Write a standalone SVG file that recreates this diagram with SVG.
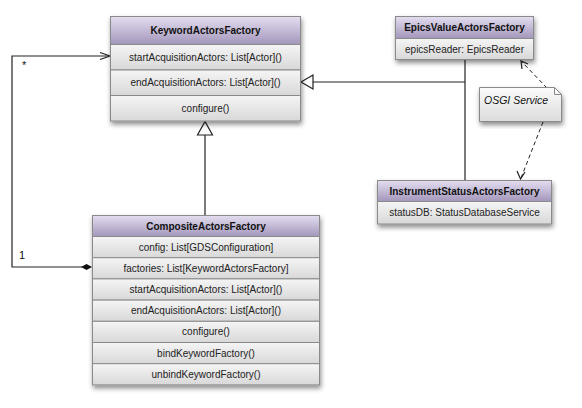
<svg xmlns="http://www.w3.org/2000/svg" width="582" height="408" viewBox="0 0 582 408">
  <defs>
    <linearGradient id="hdr" x1="0" y1="0" x2="0" y2="1">
      <stop offset="0" stop-color="#e4def0"/>
      <stop offset="1" stop-color="#a396bb"/>
    </linearGradient>
    <linearGradient id="row" x1="0" y1="0" x2="0" y2="1">
      <stop offset="0" stop-color="#f5f5f5"/>
      <stop offset="1" stop-color="#d8d8d8"/>
    </linearGradient>
    <linearGradient id="note" x1="0" y1="0" x2="0" y2="1">
      <stop offset="0" stop-color="#fbfbfb"/>
      <stop offset="1" stop-color="#dcdcdc"/>
    </linearGradient>
    <filter id="shadow" x="-10%" y="-10%" width="125%" height="130%">
      <feDropShadow dx="1" dy="3" stdDeviation="2.5" flood-color="#000" flood-opacity="0.45"/>
    </filter>
  </defs>
  <style>
    .hdr { fill: url(#hdr); stroke: #8a8a8a; stroke-width: 1; }
    .row { fill: url(#row); stroke: #8a8a8a; stroke-width: 1; }
    .title { font-family: "Liberation Sans", Arial, sans-serif; font-size: 10px; font-weight: bold; fill: #111; text-anchor: middle; }
    .item { font-family: "Liberation Sans", Arial, sans-serif; font-size: 10px; fill: #222; text-anchor: middle; }
    .mult { font-family: "Liberation Sans", Arial, sans-serif; font-size: 11px; fill: #111; }
    .line { fill: none; stroke: #222; stroke-width: 1.2; }
    .dash { fill: none; stroke: #222; stroke-width: 1; stroke-dasharray: 4 3; }
    .tri { fill: #fff; stroke: #222; stroke-width: 1.2; }
  </style>

  <g id="connectors">
    <!-- generalization: CompositeActorsFactory -> KeywordActorsFactory -->
    <line class="line" x1="205" y1="215" x2="205" y2="135"/>
    <polygon class="tri" points="205,121.5 197.5,135 212.5,135"/>
    <!-- generalization: Epics / InstrumentStatus -> KeywordActorsFactory -->
    <line class="line" x1="465" y1="59" x2="465" y2="180"/>
    <line class="line" x1="465" y1="82" x2="313" y2="82"/>
    <polygon class="tri" points="301,82 313,75 313,89"/>
    <!-- composition: factories -> KeywordActorsFactory -->
    <polyline class="line" points="82,267 12,267 12,56 109,56"/>
    <polygon points="92,267 86.5,264 81,267 86.5,270" fill="#111"/>
    <polyline class="line" points="100,52.5 110,56 100,59.5"/>
    <text class="mult" x="22" y="69">*</text>
    <text class="mult" x="19" y="259">1</text>
    <!-- note links -->
    <line class="dash" x1="547" y1="88" x2="522" y2="62"/>
    <polyline class="line" points="522,69 521,61 528,64" stroke-width="1"/>
    <line class="dash" x1="543" y1="122" x2="521" y2="178"/>
    <polyline class="line" points="517,171 520.5,179 525,172" stroke-width="1"/>
  </g>

  <g id="KeywordActorsFactory" filter="url(#shadow)">
    <rect class="hdr" x="110.5" y="16.5" width="190" height="28"/>
    <rect class="row" x="110.5" y="44.5" width="190" height="25.5"/>
    <rect class="row" x="110.5" y="70" width="190" height="25.5"/>
    <rect class="row" x="110.5" y="95.5" width="190" height="25.5"/>
  </g>
  <g id="KeywordActorsFactory-text">
    <text class="title" x="205.5" y="34">KeywordActorsFactory</text>
    <text class="item" x="205.5" y="60.5">startAcquisitionActors: List[Actor]()</text>
    <text class="item" x="205.5" y="86">endAcquisitionActors: List[Actor]()</text>
    <text class="item" x="205.5" y="111.5">configure()</text>
  </g>

  <g id="EpicsValueActorsFactory" filter="url(#shadow)">
    <rect class="hdr" x="395.5" y="16.5" width="138" height="22"/>
    <rect class="row" x="395.5" y="38.5" width="138" height="21"/>
  </g>
  <g id="EpicsValueActorsFactory-text">
    <text class="title" x="464.5" y="31">EpicsValueActorsFactory</text>
    <text class="item" x="464.5" y="52.5">epicsReader: EpicsReader</text>
  </g>

  <g id="OSGIServiceNote" filter="url(#shadow)">
    <path d="M479.5,87.5 H554.5 L561.5,94.5 V121.5 H479.5 Z" fill="url(#note)" stroke="#8a8a8a"/>
    <path d="M554.5,87.5 V94.5 H561.5" fill="none" stroke="#8a8a8a"/>
  </g>
  <g id="OSGIServiceNote-text">
    <text x="484" y="104" font-family="Liberation Sans, Arial, sans-serif" font-size="10.5" font-style="italic" fill="#111">OSGI Service</text>
  </g>

  <g id="InstrumentStatusActorsFactory" filter="url(#shadow)">
    <rect class="hdr" x="377.5" y="180.5" width="174" height="21"/>
    <rect class="row" x="377.5" y="201.5" width="174" height="22.5"/>
  </g>
  <g id="InstrumentStatusActorsFactory-text">
    <text class="title" x="464.5" y="194.5">InstrumentStatusActorsFactory</text>
    <text class="item" x="464.5" y="216">statusDB: StatusDatabaseService</text>
  </g>

  <g id="CompositeActorsFactory" filter="url(#shadow)">
    <rect class="hdr" x="92.5" y="215.5" width="227" height="21"/>
    <rect class="row" x="92.5" y="236.5" width="227" height="21.2"/>
    <rect class="row" x="92.5" y="257.7" width="227" height="21.2"/>
    <rect class="row" x="92.5" y="278.9" width="227" height="21.2"/>
    <rect class="row" x="92.5" y="300.1" width="227" height="21.2"/>
    <rect class="row" x="92.5" y="321.3" width="227" height="21.2"/>
    <rect class="row" x="92.5" y="342.5" width="227" height="21.2"/>
    <rect class="row" x="92.5" y="363.7" width="227" height="21.2"/>
  </g>
  <g id="CompositeActorsFactory-text">
    <text class="title" x="206" y="229.5">CompositeActorsFactory</text>
    <text class="item" x="206" y="250.5">config: List[GDSConfiguration]</text>
    <text class="item" x="206" y="271.7">factories: List[KeywordActorsFactory]</text>
    <text class="item" x="206" y="292.9">startAcquisitionActors: List[Actor]()</text>
    <text class="item" x="206" y="314.1">endAcquisitionActors: List[Actor]()</text>
    <text class="item" x="206" y="335.3">configure()</text>
    <text class="item" x="206" y="356.5">bindKeywordFactory()</text>
    <text class="item" x="206" y="377.7">unbindKeywordFactory()</text>
  </g>
</svg>
